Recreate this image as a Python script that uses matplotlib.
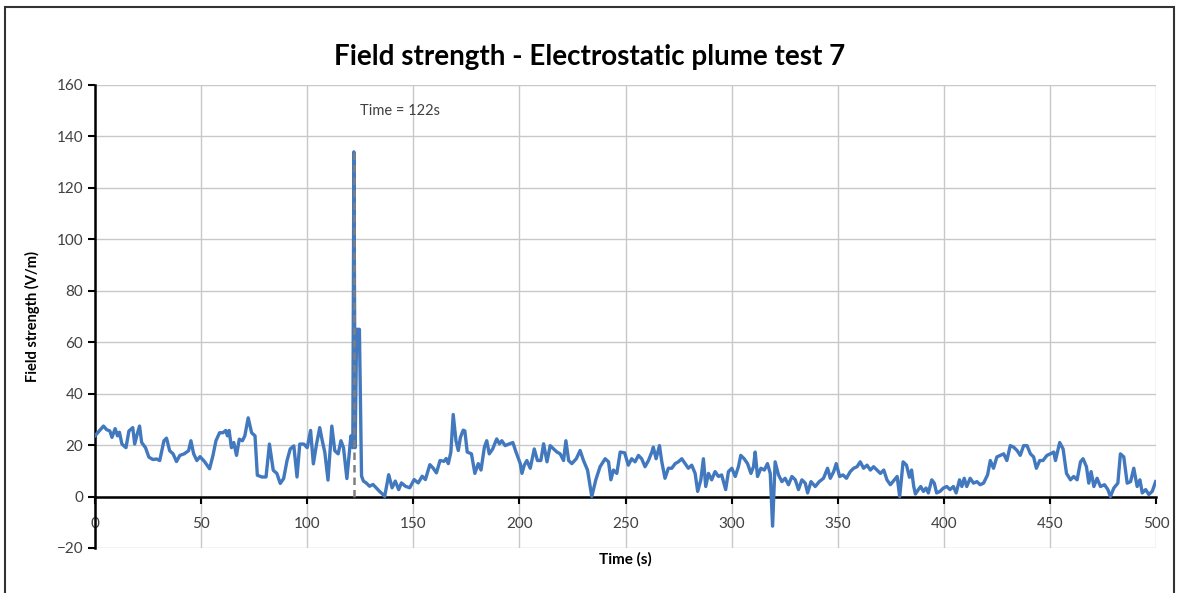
import matplotlib
matplotlib.use("Agg")
import matplotlib.pyplot as plt
from matplotlib.patches import Rectangle

plt.rcParams['font.family'] = ['Lato', 'DejaVu Sans']

# Sensor log: time (s) and field strength (V/m)
time_s = [
    0, 4, 5.5, 7, 8, 9.5, 10.6, 11.5, 12.7, 14.6, 16, 17.8, 18.7, 19.8, 21, 22, 23.8,
    25.4, 27.3, 29, 30.5, 32.5, 33.7, 35.2, 36.8, 38.4, 40, 42, 44.1, 45.2, 46.5, 48,
    49.5, 51.6, 54, 55.6, 57, 58.7, 60.3, 61.6, 62.4, 63.2, 64.3, 65.4, 66.7, 68, 69.5,
    70.6, 72.2, 73.8, 75.4, 76.5, 78.6, 80.6, 82.2, 84, 85.7, 87.3, 88.9, 90.5, 92,
    93.7, 95.2, 96.5, 98.4, 100, 101.6, 102.9, 104.4, 105.9, 107.1, 108.3, 109.8,
    111.6, 113, 114.6, 115.9, 117.1, 118.7, 120.6, 121.5, 122, 122.6, 123.3, 124.6,
    125.6, 126.5, 127.8, 129.4, 131, 132.5, 134.1, 135.7, 136.5, 138.4, 140, 141.5,
    143.1, 144.4, 146.3, 148.3, 150.4, 152.3, 154.2, 155.7, 157.8, 159.3, 160.9,
    162.6, 164.5, 165.5, 166.5, 167.7, 168.8, 170.1, 171.2, 172.2, 173.5, 174.3,
    175.4, 177.4, 179, 180.6, 181.9, 183.5, 184.6, 185.8, 187.4, 189.3, 190.6, 191.7,
    193.3, 195.3, 196.9, 198.4, 200.4, 201.2, 202.3, 203.5, 205.1, 207, 208.5, 210.1,
    211.4, 213, 214.5, 216.1, 217.7, 219.2, 220.8, 221.9, 223.2, 224.7, 226.8, 228.6,
    230.2, 232.1, 234.1, 236, 238, 240.4, 242, 243.1, 244.3, 245.9, 247.5, 249.6,
    251.3, 252.9, 254.5, 256.1, 257.6, 259.2, 260.8, 262.4, 263.1, 264.4, 266, 267.1,
    268.6, 270.2, 271.8, 273.4, 274.9, 276.5, 278.1, 279.6, 281.2, 282.8, 284, 285.5,
    286.7, 287.8, 289.1, 290.6, 292.2, 293.8, 295.3, 297.2, 298.5, 300.1, 301.7,
    303.2, 304.3, 305.9, 307.5, 309.1, 310.3, 311.1, 312.2, 313.8, 315.4, 316.9,
    318.2, 319.3, 320.5, 322.1, 323.7, 325.2, 326.8, 328.4, 330, 331.5, 333.1, 334.7,
    335.8, 337.4, 339.4, 341.3, 343.3, 345.2, 346.5, 348.1, 349.3, 350.9, 352.5,
    354.1, 355.9, 357.5, 359.1, 360.6, 362.2, 363.8, 365.4, 366.9, 368.5, 370.1,
    371.7, 373.2, 374.8, 376.7, 378, 379.2, 380.8, 382.4, 383.8, 384.8, 385.8, 386.6,
    388, 389.1, 390.4, 391.6, 392.7, 394.3, 395.5, 396.6, 398.2, 399.8, 401.4, 402.9,
    404.5, 405.8, 407.4, 408.5, 409.6, 410.8, 412.4, 414, 415.6, 417.1, 418.7, 420.6,
    421.9, 423.4, 425, 426.6, 428.2, 429.7, 431.3, 432.9, 434.5, 436, 437.6, 439.2,
    440.8, 442.3, 443.6, 445.2, 446.7, 448.6, 450.2, 451.8, 452.6, 454.6, 456.2,
    457.8, 459.7, 461.2, 462.8, 464.4, 465.6, 467.2, 468.3, 469.4, 470.7, 472.2,
    473.8, 475.7, 477.3, 478.5, 480.1, 482, 483.2, 484.8, 486.4, 488, 489.5, 491.1,
    492.4, 493.5, 495.1, 496.6, 498.2, 499.8,
]
field_vm = [
    23.6, 27.4, 26, 25.5, 23, 26.4, 23.6, 25, 20.4, 19, 25.5, 26.8, 20.4, 24, 27.4, 21, 19,
    15.3, 14.4, 14.6, 14, 21.7, 22.7, 17.8, 16.6, 13.6, 16, 16.6, 17.8, 21.7, 16.6, 14,
    15.5, 13.6, 10.8, 16, 21.7, 24.8, 24.8, 25.7, 23.6, 25.7, 19, 21, 16, 22.3, 21.7,
    23.6, 30.6, 24.8, 23.6, 8.3, 7.6, 7.6, 20.4, 10.2, 9, 5.1, 7, 14, 18.5,
    19.7, 7.6, 20.4, 20.4, 19, 25.7, 12.7, 20.4, 26.8, 21.7, 17.2, 6.4,
    27.4, 17.8, 16.6, 21.7, 19, 7, 23.6, 19, 134, 19, 65, 65,
    8, 6, 5.3, 4, 4.7, 3.4, 2, 0.8, 0, 8.5, 3.4, 6,
    2.7, 5.3, 4, 3.4, 6.6, 5.3, 7.9, 6.6, 12.4, 11.1, 9.2,
    14, 13.7, 14.8, 12.8, 17.3, 31.9, 21.7, 17.9, 23, 25.8, 25.5,
    17.3, 16.6, 9, 12.8, 10.3, 19.2, 21.7, 16.6, 18.5, 22.4, 20.5, 21.7,
    19.8, 20.5, 21, 17.3, 12.8, 9, 12.2, 14, 11, 18.5, 14, 14,
    20.5, 13.5, 19.8, 18.5, 17.3, 16.6, 14, 21.7, 14, 12.8, 14.7, 17.9,
    14, 10.3, 0, 6.5, 11.6, 14.7, 13.5, 6.5, 10.3, 9, 17.3, 17,
    12.2, 14.7, 13.5, 16, 14.7, 11.6, 14, 17.3, 19.2, 14.7, 19.8, 13.5,
    7.1, 11, 11, 12.8, 13.5, 14.7, 12.8, 11, 12.2, 9, 2, 6.5,
    14.7, 3.9, 9, 6.5, 9.7, 7.8, 8.4, 2.7, 9.7, 11, 7.8,
    11.6, 16, 14.7, 12.8, 9, 11.6, 17.3, 7.8, 11, 10.3, 12.8,
    9, -11.5, 13.5, 8.4, 5.8, 7.1, 4.6, 7.8, 6.5, 2.7, 6.5, 5.2,
    1.4, 5.8, 3.9, 5.8, 7.1, 11, 7.1, 9.7, 12.8, 7.8, 8.4,
    7.1, 9.7, 11, 11.6, 13.5, 11, 12.2, 10.3, 11.6, 10.3, 9,
    10.3, 6.5, 4.6, 6.5, 7.8, 0, 13.5, 12.2, 7.5, 10.3, 4, 1,
    2.7, 3.9, 2, 3.3, 1.4, 6.5, 5.2, 1.4, 2, 3.3, 3.9, 2.7,
    3.9, 1.4, 6.5, 3.9, 7.1, 3.9, 7.1, 5.2, 5.8, 4.6, 5.2, 8.4,
    14, 11, 15.4, 16, 16.6, 14, 19.8, 19.2, 17.9, 16, 19.8, 19.8,
    16.6, 15.4, 11, 14, 14, 16, 16.6, 17.3, 14, 21, 18.5,
    9, 6.5, 7.8, 6.5, 13.5, 14.7, 11.6, 5.2, 9.7, 3.9, 7.1,
    3.9, 4.6, 2.7, 0, 3.3, 5.2, 16.6, 15.4, 5.2, 5.8, 11, 3.9,
    6.5, 1.4, 2.7, 0.8, 2, 5.8,
]

event_time = 122
event_peak = 134
x_ticks = list(range(0, 501, 50))
y_ticks = list(range(-20, 161, 20))

fig = plt.figure(figsize=(11.8, 5.93), dpi=100)
ax = fig.add_axes([0.0805, 0.0759, 0.8992, 0.7808])

ax.plot(time_s, field_vm, color='#4178be', linewidth=2.4, zorder=3,
        solid_joinstyle='round')
ax.plot([event_time, event_time], [0, event_peak], color='#7f7f7f',
        linestyle=(0, (3, 2)), linewidth=1.8, zorder=4)
ax.text(event_time + 3, 150, 'Time = 122s', fontsize=10.5, color='#404040',
        va='center', ha='left')

ax.set_xlim(0, 500)
ax.set_ylim(-20, 160)
ax.set_xticks(x_ticks)
ax.set_yticks(y_ticks)
ax.grid(True, color='#c8c8c8', linewidth=1.0, zorder=0)
ax.set_axisbelow(True)

ax.spines['top'].set_visible(False)
ax.spines['right'].set_visible(False)
ax.spines['bottom'].set_position(('data', 0))
ax.spines['bottom'].set_linewidth(1.8)
ax.spines['left'].set_linewidth(1.8)
ax.tick_params(axis='both', direction='out', length=5, width=1.5,
               labelsize=11, labelcolor='#404040')
ax.tick_params(axis='x', pad=10)

ax.set_xlabel('Time (s)', fontsize=11, fontweight='bold', labelpad=15)
ax.set_ylabel('Field strength (V/m)', fontsize=10.5, fontweight='bold', labelpad=12)
fig.suptitle('Field strength - Electrostatic plume test 7', fontsize=20,
             fontweight='bold', y=0.925)

# Outer chart frame
fig.patches.append(Rectangle((0.004, -0.02), 0.991, 1.008, transform=fig.transFigure,
                             fill=False, edgecolor='#333333', linewidth=1.5))

plt.savefig('out.png', dpi=100)
